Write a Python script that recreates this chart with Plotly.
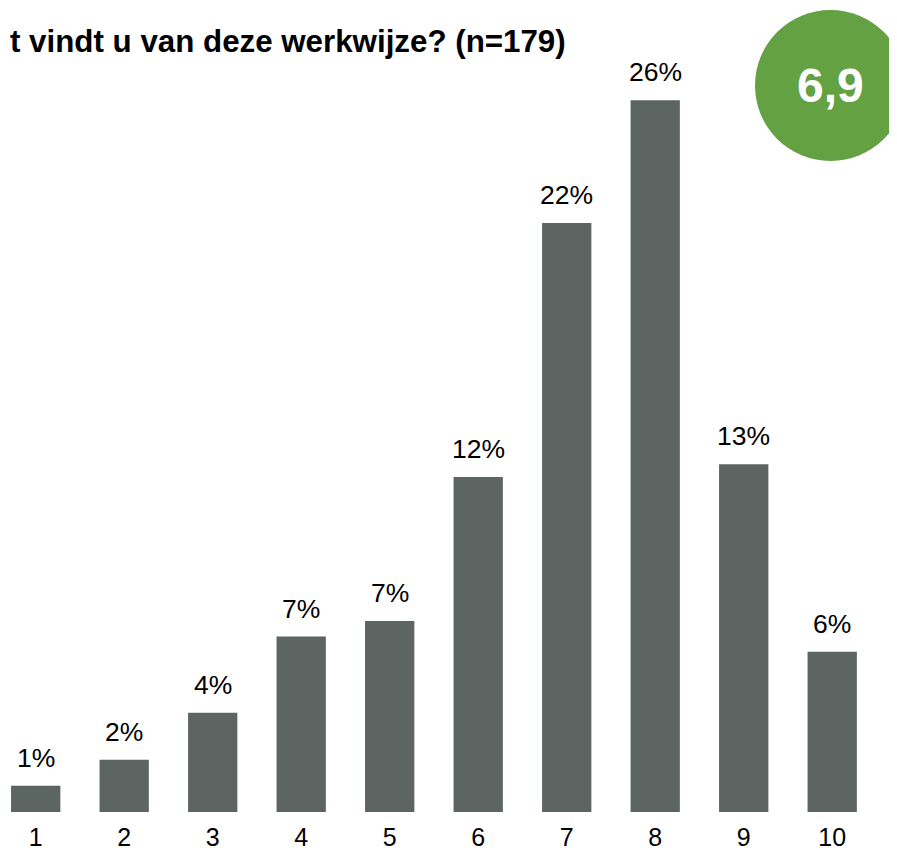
import plotly.graph_objects as go

categories = [1, 2, 3, 4, 5, 6, 7, 8, 9, 10]
tick_labels = ["1", "2", "3", "4", "5", "6", "7", "8", "9", "10"]
percentages = [0.96, 1.91, 3.63, 6.41, 6.98, 12.24, 21.52, 26.0, 12.70, 5.85]
value_labels = ["1%", "2%", "4%", "7%", "7%", "12%", "22%", "26%", "13%", "6%"]
title_text = "t vindt u van deze werkwijze? (n=179)"
score_text = "6,9"

# page body has an 8px margin, so the figure is drawn at (8, 8)
W, H = 889, 842
ML, MR, MT, MB = 0, 0, 0, 38
PW, PH = W - ML - MR, H - MT - MB

def px_x(px):
    return (px - ML) / PW

def px_y(py):
    return (H - MB - py) / PH

BAR_COLOR = "#5d6562"
GREEN = "#64a143"
FONT = "Liberation Sans, Arial, sans-serif"

fig = go.Figure()
fig.add_trace(go.Bar(
    x=categories, y=percentages, width=0.557,
    marker=dict(color=BAR_COLOR, line=dict(width=0)),
    hoverinfo="skip",
))

for c, v, t in zip(categories, percentages, value_labels):
    fig.add_annotation(x=c, y=v, xref="x", yref="y", text=t, showarrow=False,
                       yanchor="bottom", xanchor="center", yshift=11,
                       font=dict(family=FONT, size=26.5, color="#000000"))

# title
fig.add_annotation(x=px_x(0), y=px_y(34), xref="paper", yref="paper",
                   text="<b>" + title_text + "</b>", showarrow=False,
                   xanchor="left", yanchor="middle",
                   font=dict(family=FONT, size=31.3, color="#000000"))

# score circle
fig.add_shape(type="circle", xref="paper", yref="paper",
              x0=px_x(747), x1=px_x(898), y0=px_y(153), y1=px_y(2),
              fillcolor=GREEN, line=dict(width=0), layer="above")
fig.add_annotation(x=px_x(822.5), y=px_y(78), xref="paper", yref="paper",
                   text="<b>" + score_text + "</b>", showarrow=False,
                   xanchor="center", yanchor="middle",
                   font=dict(family=FONT, size=48, color="#ffffff"))

fig.update_layout(
    width=W, height=H,
    margin=dict(l=ML, r=MR, t=MT, b=MB, pad=0, autoexpand=False),
    paper_bgcolor="#ffffff", plot_bgcolor="#ffffff",
    showlegend=False,
    font=dict(family=FONT, color="#000000"),
)
fig.update_xaxes(range=[0.687, 10.732], tickvals=categories, ticktext=tick_labels,
                 tickfont=dict(family=FONT, size=25, color="#000000"),
                 ticks="", showgrid=False, zeroline=False, showline=False,
                 ticklabelstandoff=8, automargin=False, fixedrange=True)
fig.update_yaxes(range=[0, 29.37], showticklabels=False, showgrid=False,
                 zeroline=False, showline=False, automargin=False, fixedrange=True)

fig.write_html("out.html")
